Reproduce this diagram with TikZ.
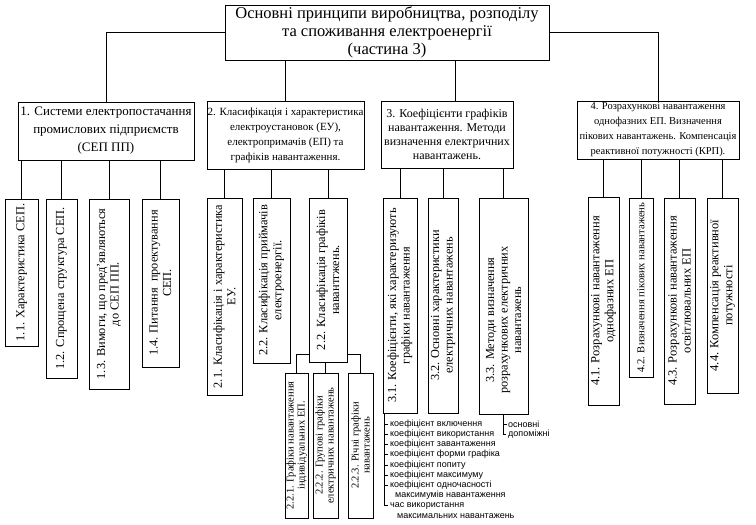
\documentclass[tikz,border=0pt]{standalone}
\usepackage{fontspec}
\setmainfont{Liberation Serif}
\newfontfamily\arialf{Liberation Sans}
\usetikzlibrary{fit}
\begin{document}
\begin{tikzpicture}[x=1pt,y=-1pt,
  box/.style={draw, line width=0.7pt, inner sep=0pt, fill=white},
  ln/.style={line width=0.6pt},
  ttl/.style={align=center, font=\fontsize{16.5}{18}\selectfont},
  lone/.style={align=center, font=\fontsize{13}{18}\selectfont},
  ltwo/.style={align=center, font=\fontsize{11}{15}\selectfont},
  lthree/.style={align=center, font=\fontsize{12}{14}\selectfont},
  lfour/.style={align=center, font=\fontsize{10.5}{15}\selectfont},
  rt/.style={rotate=90, align=center, inner sep=0pt, font=\fontsize{12.3}{13.5}\selectfont},
  rts/.style={rotate=90, align=center, inner sep=0pt, font=\fontsize{10.5}{11}\selectfont},
  rtf/.style={rotate=90, align=center, inner sep=0pt, font=\fontsize{12.5}{14}\selectfont},
  item/.style={anchor=west, inner sep=0pt, font=\arialf\fontsize{9}{9}\selectfont}]
\useasboundingbox (0,0) rectangle (756,525);
\fill[white] (0,0) rectangle (756,525);

% boxes
\node[box, fit={(225,5) (549,60)}] (title) {};
\node[box, fit={(18,102) (194,160)}] (b1) {};
\node[box, fit={(207,101) (364,169)}] (b2) {};
\node[box, fit={(381,101) (513,168)}] (b3) {};
\node[box, fit={(577,101) (739,159)}] (b4) {};

\node[box, fit={(5,199) (38,346)}] (c11) {};
\node[box, fit={(46,199) (77,378)}] (c12) {};
\node[box, fit={(89,199) (129,389)}] (c13) {};
\node[box, fit={(142,199) (179,367)}] (c14) {};

\node[box, fit={(207,198) (242,395)}] (c21) {};
\node[box, fit={(253,198) (290,363)}] (c22) {};
\node[box, fit={(309,198) (347,362)}] (c23) {};

\node[box, fit={(285,373) (308,518)}] (d1) {};
\node[box, fit={(313,373) (338,518)}] (d2) {};
\node[box, fit={(348,373) (373,518)}] (d3) {};

\node[box, fit={(383,198) (417,413)}] (c31) {};
\node[box, fit={(428,198) (458,413)}] (c32) {};
\node[box, fit={(479,198) (528,414)}] (c33) {};

\node[box, fit={(588,197) (619,405)}] (c41) {};
\node[box, fit={(629,198) (653,377)}] (c42) {};
\node[box, fit={(664,198) (695,404)}] (c43) {};
\node[box, fit={(707,198) (738,393)}] (c44) {};

% texts
\node[ttl] at (title.center) {Основні принципи виробництва, розподілу\\та споживання електроенергії\\(частина 3)};
\node[lone] at (b1.center) {1. Системи електропостачання\\промислових підприємств\\(СЕП ПП)};
\node[ltwo] at (b2.center) {2. Класифікація і характеристика\\електроустановок (ЕУ),\\електропримачів (ЕП) та\\графіків навантаження.};
\node[lthree] at (b3.center) {3. Коефіцієнти графіків\\навантаження. Методи\\визначення електричних\\навантажень.};
\node[lfour] at (b4.center) {4. Розрахункові навантаження\\однофазних ЕП. Визначення\\пікових навантажень. Компенсація\\реактивної потужності (КРП).};

\node[rt] at (c11.center) {1.1. Характеристика СЕП.};
\node[rt] at (c12.center) {1.2. Спрощена структура СЕП.};
\node[rt] at (c13.center) {1.3. Вимоги, що пред'являються\\до СЕП ПП.};
\node[rt] at (c14.center) {1.4. Питання\ \ проектування\\СЕП.};
\node[rt] at (c21.center) {2.1. Класифікація і характеристика\\ЕУ.};
\node[rt, font=\fontsize{12.4}{14}\selectfont] at (c22.center) {2.2. Класифікація приймачів\\електроенергії.};
\node[rt, font=\fontsize{12.4}{14}\selectfont] at (c23.center) {2.2. Класифікація графіків\\навантгжень.};
\node[rts] at (d1.center) {2.2.1. Графіки навантаження\\індивідуальних ЕП.};
\node[rts] at (d2.center) {2.2.2. Групові графіки\\електричних навантажень};
\node[rts] at (d3.center) {2.2.3. Річні графіки\\навантажень};
\node[rt] at (c31.center) {3.1. Коефіцієнти, які характеризують\\графіки навантаження};
\node[rt] at (c32.center) {3.2. Основні характеристики\\електричних навантажень};
\node[rt] at ([yshift=-14pt]c33.center) {3.3. Методи визначення\\розрахункових електричних\\навантажень};
\node[rtf] at (c41.center) {4.1. Розрахункові навантаження\\однофазних ЕП};
\node[rtf, font=\fontsize{10.6}{12}\selectfont] at (c42.center) {4.2. Визначення пікових навантажень};
\node[rtf] at (c43.center) {4.3. Розрахункові навантаження\\освітлювальних ЕП};
\node[rtf] at (c44.center) {4.4. Компенсація реактивної\\потужності};

% list items
\node[item] (k1) at (390,424) {коефіцієнт включення};
\node[item] (k2) at (390,434.2) {коефіцієнт використання};
\node[item] (k3) at (390,444.4) {коефіцієнт завантаження};
\node[item] (k4) at (390,454.6) {коефіцієнт форми графіка};
\node[item] (k5) at (390,464.8) {коефіцієнт попиту};
\node[item] (k6) at (390,475) {коефіцієнт максимуму};
\node[item] (k7) at (390,485.2) {коефіцієнт одночасності};
\node[item] (k8) at (395,495.4) {максимумів навантаження};
\node[item] (k9) at (390,505.6) {час використання};
\node[item] (k10) at (397,515.8) {максимальних навантажень};
\node[item] (o1) at (508,424) {основні};
\node[item] (o2) at (508,434.2) {допоміжні};

% connectors
\draw[ln] (title.west) -| (b1.north);
\draw[ln] (title.east) -| (b4.north);
\draw[ln] (b2.north) -- (b2.north |- title.south);
\draw[ln] ([xshift=8pt]b3.north) -- ([xshift=8pt]b3.north |- title.south);

\foreach \c in {c11,c12,c13,c14} \draw[ln] (b1.south -| \c.north) -- (\c.north);
\foreach \c in {c21,c22,c23} \draw[ln] (b2.south -| \c.north) -- (\c.north);
\foreach \c in {c31,c32,c33} \draw[ln] (b3.south -| \c.north) -- (\c.north);
\foreach \c in {c41,c42,c43,c44} \draw[ln] (b4.south -| \c.north) -- (\c.north);

\coordinate (br) at (0,354);
\draw[ln] (d1.north) |- (c23.west |- br);
\draw[ln] (c23.east |- br) -| (d3.north);
\draw[ln] (d2.north |- c23.south) -- (d2.north);

\coordinate (lx) at ([xshift=2pt]c31.south west);
\draw[ln] (lx) |- ([xshift=-2pt]k9.west);
\foreach \k in {k1,k2,k3,k4,k5,k6,k7} \draw[ln] (lx |- \k.west) -- ++(3,0);
\draw[ln] (c33.south) |- ([xshift=-2pt]o2.west);
\draw[ln] (c33.south |- o1.west) -- ++(3,0);
\end{tikzpicture}
\end{document}
